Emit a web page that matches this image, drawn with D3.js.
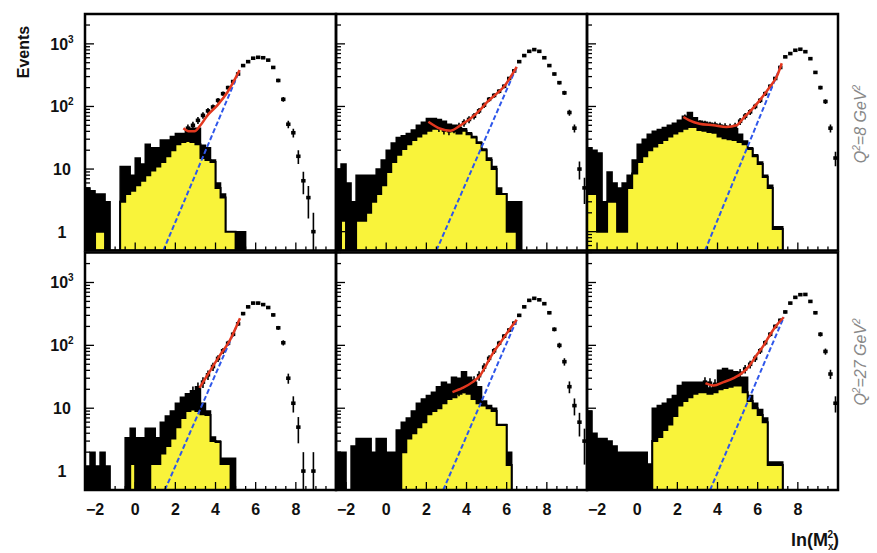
<!DOCTYPE html>
<html>
<head>
<meta charset="utf-8">
<script src="https://cdn.jsdelivr.net/npm/d3@7"></script>
<style>
  body { margin: 0; background: #fff; }
  text { font-family: "Liberation Sans", Arial, sans-serif; }
</style>
</head>
<body>
<svg id="chart" width="877" height="553"></svg>
<script>
// binning of the histograms, ln(Mx^2)
const binStart = -2.5, binWidth = 0.25

// black histograms (from binStart)
const blk1 = [5, 4.5, 4, 4, 3, 0, 0, 11, 11, 8, 15, 12, 25, 22, 22, 29, 29, 33, 37, 37, 42, 45, 45, 24, 22, 14, 6, 4, 1, 1, 1, 1]
const blk2 = [10, 12, 6, 3, 8, 8, 8, 8, 10, 14, 20, 26, 32, 34, 37, 42, 50, 56, 64, 64, 62, 58, 52, 50, 46, 44, 38, 33, 27, 21, 15, 11, 5, 4, 3, 3, 3]
const blk3 = [22, 20, 18, 3, 9, 6, 5, 6, 8, 14, 25, 30, 36, 40, 43, 46, 50, 54, 60, 70, 80, 66, 58, 56, 54, 52, 50, 48, 46, 44, 36, 28, 22, 17, 13, 8, 5.5, 1.2, 1.2]
const blk4 = [1.2, 2, 1.2, 2, 1.2, 0, 0, 0, 3.4, 4.8, 3.4, 3.4, 4.8, 4.8, 3.4, 6, 7.5, 9, 12, 15, 17, 19, 22, 12, 9, 3.5, 3, 1.6, 1.6, 1.6]
const blk5 = [2, 2, 0, 2.5, 3.3, 3.3, 3.3, 2, 3.3, 3.3, 2, 2, 4.5, 6, 7, 9, 12, 14, 16, 18, 22, 26, 24, 31, 30, 38, 31, 26, 22, 13, 11, 10, 5.5, 5.5, 2]
const blk6 = [9, 4, 3.3, 3.3, 3, 2.5, 2, 2, 2, 2, 2, 2, 1.3, 10, 11, 12, 14, 16, 23, 26, 26, 26, 26, 26, 21, 23, 40, 43, 40, 38, 31, 31, 16, 12, 9.5, 7, 1.4, 1.4, 1.4]

// yellow MC histograms (from binStart)
const mc1 = [0, 0, 1, 1, 0, 0, 0, 3, 4, 4.5, 5.5, 6.5, 8, 9.5, 11, 13, 16, 20, 25, 27, 28, 27, 25, 15, 14, 13, 5, 3.5, 1, 1]
const mc2 = [0, 1.5, 0, 0, 1.5, 1.5, 2, 3, 4, 5.5, 9, 13, 17, 21, 25, 29, 33, 37, 41, 44, 44, 44, 44, 40, 37, 41, 36, 32, 26, 20, 14, 10, 4, 4, 1, 1]
const mc3 = [4, 4, 1, 1, 3, 3, 1, 1, 5, 8.5, 13, 16, 20, 23, 26, 29, 33, 37, 40, 44, 47, 47, 42, 41, 39, 38, 33, 31, 30, 29, 27, 25, 21, 16, 12, 7.5, 5, 1.1, 1.1]
const mc4 = [0, 0, 0, 0, 0, 0, 0, 0, 0, 1.3, 0, 0, 0, 1.3, 1.3, 1.9, 2.5, 3.3, 5, 7, 9, 9.5, 9, 8, 7.8, 3, 2.9, 1.3, 1.3]
const mc5 = [0, 0, 0, 0, 0, 0, 0, 0, 0, 0, 0, 0, 0, 2, 3.3, 4, 5, 6, 8, 9, 10, 12, 14, 15, 17, 18, 17, 14, 12, 11, 10, 9, 5.4, 5.4, 1.25]
const mc6 = [0, 0, 0, 0, 0, 0, 0, 0, 0, 0, 0, 0, 0, 3, 3.5, 4.5, 5.5, 7.5, 11, 13, 15, 17, 18, 18, 17, 18, 20, 21, 22, 23, 23, 18, 13, 10, 7.8, 6, 1.25, 1.25, 1.25]

// data points, bin centres from ptsStart in steps of binWidth
const ptsStart = [2.625, 2.125, 2.375, 2.875, 3.375, 3.375]
const pts1 = [45, 50, 60, 72, 85, 98, 125, 160, 200, 250, 330, 450, 520, 590, 610, 600, 550, 420, 260, 130, 52, 38, 16, 6.5, 3.5, 1]
const pts2 = [57, 52, 46, 42, 41, 44, 48, 55, 62, 70, 85, 105, 130, 150, 175, 210, 280, 370, 520, 650, 760, 810, 760, 600, 450, 330, 240, 165, 80, 45, 10, 5]
const pts3 = [66, 60, 56, 53, 52, 50, 50, 48, 47, 46, 48, 58, 70, 82, 100, 125, 160, 210, 280, 420, 620, 700, 790, 820, 750, 580, 350, 200, 120, 45, 15]
const pts4 = [18, 21, 26, 34, 46, 62, 82, 108, 150, 220, 320, 410, 470, 470, 445, 400, 305, 190, 110, 30, 12, 5, 1, 0, 1]
const pts5 = [19, 20, 22, 24, 27, 33, 45, 62, 82, 108, 140, 175, 225, 300, 410, 520, 560, 530, 460, 330, 180, 100, 55, 22, 11, 6, 3]
const pts6 = [26, 25, 24, 26, 28, 30, 32, 36, 42, 50, 62, 82, 110, 150, 200, 250, 340, 470, 580, 640, 645, 500, 330, 150, 80, 35, 12]

// red fit curves [ln Mx^2, events]
const fit1 = [[2.4, 45], [2.7, 40], [2.95, 40], [3.25, 50], [3.6, 72], [4.1, 105], [4.6, 170], [5.2, 380]]
const fit2 = [[2.1, 57], [2.7, 44], [3.2, 41], [3.7, 50], [4.2, 64], [4.7, 90], [5.0, 115], [5.5, 160], [5.85, 205], [6.2, 298], [6.5, 430]]
const fit3 = [[2.3, 68], [2.6, 60], [3.1, 53], [3.8, 50], [4.45, 47], [4.95, 50], [5.3, 66], [5.6, 82], [6.1, 125], [6.6, 205], [6.95, 300], [7.2, 490]]
const fit4 = [[3.2, 21], [3.7, 38], [4.2, 68], [4.7, 118], [5.22, 270]]
const fit5 = [[3.3, 18], [3.8, 21], [4.3, 26], [4.7, 34], [5.0, 50], [5.35, 78], [5.7, 112], [6.0, 155], [6.5, 255]]
const fit6 = [[3.4, 25], [3.8, 23], [4.3, 26], [4.8, 30], [5.3, 38], [5.6, 48], [5.95, 70], [6.3, 100], [6.6, 145], [6.95, 210], [7.3, 280]]

// blue dashed exponential, end points
const bg1 = [[1.4, 0.5], [5.2, 380]]
const bg2 = [[2.5, 0.5], [6.5, 430]]
const bg3 = [[3.38, 0.5], [7.2, 490]]
const bg4 = [[1.48, 0.5], [5.22, 270]]
const bg5 = [[2.84, 0.5], [6.5, 255]]
const bg6 = [[3.63, 0.5], [7.3, 280]]

const xTicks = [-2, 0, 2, 4, 6, 8]
const yLabels = [[1, '1', ''], [10, '10', ''], [100, '10', '2'], [1000, '10', '3']]
const rowLabels = [['Q', '2', '=8 GeV', '2'], ['Q', '2', '=27 GeV', '2']]

const panels = [
  { row: 0, col: 0, blk: blk1, mc: mc1, pts: pts1, p0: ptsStart[0], fit: fit1, bg: bg1 },
  { row: 0, col: 1, blk: blk2, mc: mc2, pts: pts2, p0: ptsStart[1], fit: fit2, bg: bg2 },
  { row: 0, col: 2, blk: blk3, mc: mc3, pts: pts3, p0: ptsStart[2], fit: fit3, bg: bg3 },
  { row: 1, col: 0, blk: blk4, mc: mc4, pts: pts4, p0: ptsStart[3], fit: fit4, bg: bg4 },
  { row: 1, col: 1, blk: blk5, mc: mc5, pts: pts5, p0: ptsStart[4], fit: fit5, bg: bg5 },
  { row: 1, col: 2, blk: blk6, mc: mc6, pts: pts6, p0: ptsStart[5], fit: fit6, bg: bg6 }
]

const colX = [85, 336, 587]
const colW = 251
const rowY = [[14, 250.5], [252.5, 490]]
const yMin = 0.5, yMax = 3000

const svg = d3.select('#chart')

const steps = vals => {
  const p = vals.map((v, i) => [binStart + i * binWidth, v])
  p.push([binStart + vals.length * binWidth, vals[vals.length - 1]])
  return p
}

panels.forEach((p, i) => {
  const x0 = colX[p.col], x1 = x0 + colW
  const [top, bottom] = rowY[p.row]
  const x = d3.scaleLinear().domain([binStart, 10]).range([x0, x1])
  const y = d3.scaleLog().domain([yMin, yMax]).range([bottom, top])
  const yv = v => y(Math.max(v, yMin))

  svg.append('clipPath').attr('id', 'clip' + i)
    .append('rect').attr('x', x0).attr('y', top).attr('width', colW).attr('height', bottom - top)

  const g = svg.append('g').attr('clip-path', `url(#clip${i})`)

  const area = d3.area()
    .curve(d3.curveStepAfter)
    .x(d => x(d[0]))
    .y0(bottom)
    .y1(d => yv(d[1]))

  g.append('path')
    .attr('d', area(steps(p.blk)))
    .attr('fill', '#000')
    .attr('stroke', '#000')
    .attr('stroke-width', 1.5)

  g.append('path')
    .attr('d', area(steps(p.mc)))
    .attr('fill', '#f9f33a')
    .attr('stroke', '#000')
    .attr('stroke-width', 2)

  // data points with sqrt(N) bars
  const pts = p.pts.map((v, k) => [p.p0 + k * binWidth, v]).filter(d => d[1] > 0)
  g.selectAll('.err' + i).data(pts).join('line')
    .attr('x1', d => x(d[0])).attr('x2', d => x(d[0]))
    .attr('y1', d => yv(d[1] - Math.sqrt(d[1])))
    .attr('y2', d => yv(d[1] + Math.sqrt(d[1])))
    .attr('stroke', '#000')
    .attr('stroke-width', 1.6)
  g.selectAll('.pt' + i).data(pts).join('rect')
    .attr('x', d => x(d[0]) - 2.2)
    .attr('y', d => yv(d[1]) - 1.8)
    .attr('width', 4.4)
    .attr('height', 3.6)
    .attr('fill', '#000')

  const line = d3.line().x(d => x(d[0])).y(d => yv(d[1]))

  g.append('path')
    .attr('d', line(p.bg))
    .attr('fill', 'none')
    .attr('stroke', '#2f57ea')
    .attr('stroke-width', 2)
    .attr('stroke-dasharray', '5,2.5')

  g.append('path')
    .attr('d', line.curve(d3.curveMonotoneX)(p.fit))
    .attr('fill', 'none')
    .attr('stroke', '#e2381f')
    .attr('stroke-width', 2.5)

  // ticks
  const ticks = svg.append('g').attr('stroke', '#000')
  for (let d = -1; d <= 3; d++) {
    for (let k = 1; k <= 9; k++) {
      const v = k * Math.pow(10, d)
      if (v < yMin || v > yMax) continue
      ticks.append('line')
        .attr('x1', x0).attr('x2', x0 + (k === 1 ? 9 : 5))
        .attr('y1', y(v)).attr('y2', y(v))
        .attr('stroke-width', 1.3)
    }
  }
  d3.range(-2.5, 10.01, 0.5).forEach(t => {
    const major = Math.abs(t % 2) < 1e-6
    ticks.append('line')
      .attr('x1', x(t)).attr('x2', x(t))
      .attr('y1', bottom).attr('y2', bottom - (major ? 8 : 4))
      .attr('stroke-width', 1.3)
  })

  svg.append('rect')
    .attr('x', x0).attr('y', top)
    .attr('width', colW).attr('height', bottom - top)
    .attr('fill', 'none')
    .attr('stroke', '#000')
    .attr('stroke-width', 2.5)

  if (p.col === 0) {
    yLabels.forEach(([v, base, sup]) => {
      const t = svg.append('text')
        .attr('x', 62).attr('y', y(v) + 6)
        .attr('text-anchor', 'middle')
        .attr('font-size', 16)
        .attr('font-weight', 'bold')
        .attr('fill', '#111')
      t.append('tspan').text(base)
      if (sup) t.append('tspan').attr('font-size', 10).attr('dy', -7).text(sup)
    })
  }

  if (p.row === 1) {
    xTicks.forEach(t => {
      svg.append('text')
        .attr('x', x(t)).attr('y', 515)
        .attr('text-anchor', 'middle')
        .attr('font-size', 16)
        .attr('font-weight', 'bold')
        .attr('fill', '#111')
        .text(t < 0 ? '\u2212' + Math.abs(t) : t)
    })
  }
})

svg.append('text')
  .attr('transform', 'translate(29,52) rotate(-90)')
  .attr('text-anchor', 'middle')
  .attr('font-size', 16)
  .attr('font-weight', 'bold')
  .attr('fill', '#111')
  .text('Events')

const xt = svg.append('text')
  .attr('x', 839).attr('y', 546)
  .attr('text-anchor', 'end')
  .attr('font-size', 18)
  .attr('font-weight', 'bold')
  .attr('fill', '#111')
xt.append('tspan').text('ln(M')
xt.append('tspan').attr('font-size', 10).attr('dy', 4).text('x')
xt.append('tspan').attr('font-size', 10).attr('dx', -6).attr('dy', -12).text('2')
xt.append('tspan').attr('dy', 8).text(')')

rowLabels.forEach((lab, r) => {
  const cy = r === 0 ? 124 : 362
  const t = svg.append('text')
    .attr('transform', `translate(866,${cy}) rotate(-90)`)
    .attr('text-anchor', 'middle')
    .attr('font-family', '"Liberation Serif", serif')
    .attr('font-size', 16)
    .attr('font-style', 'italic')
    .attr('fill', '#888')
  t.append('tspan').text(lab[0])
  t.append('tspan').attr('font-size', 10).attr('dy', -6).text(lab[1])
  t.append('tspan').attr('dy', 6).text(lab[2])
  t.append('tspan').attr('font-size', 10).attr('dy', -6).text(lab[3])
})
</script>
</body>
</html>
